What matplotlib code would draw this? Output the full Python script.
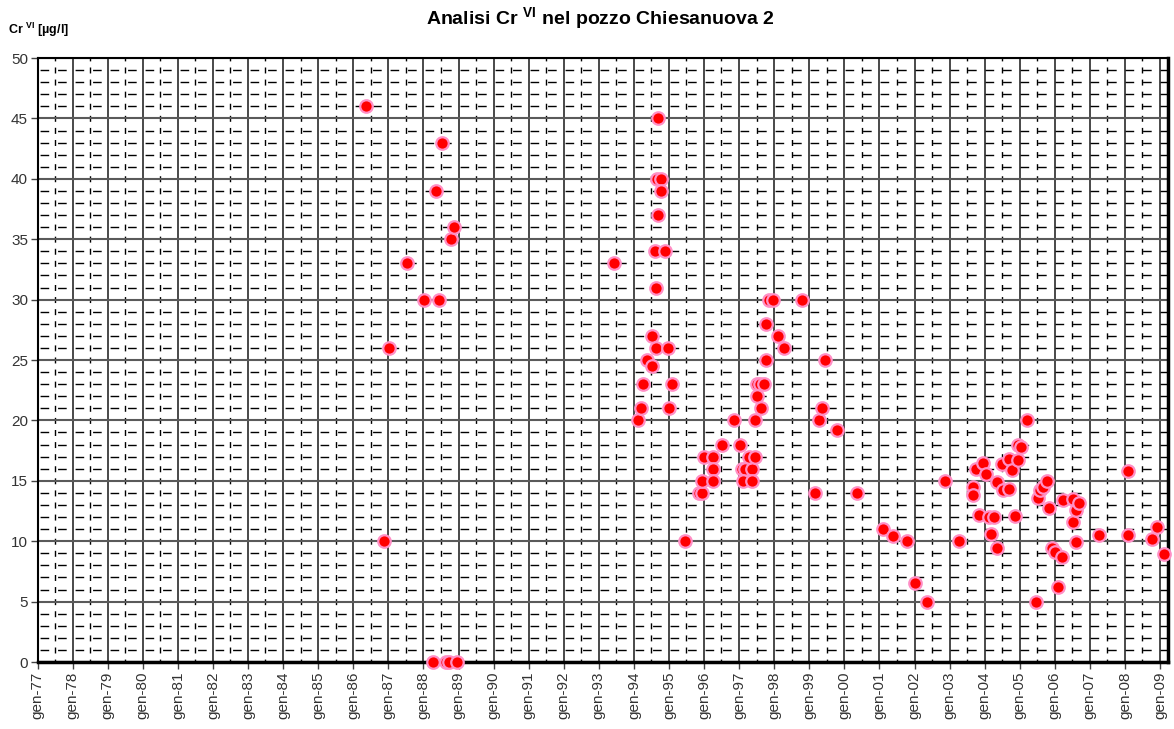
import matplotlib
matplotlib.use('Agg')
import matplotlib.pyplot as plt
import matplotlib.dates as mdates
from matplotlib.ticker import MultipleLocator, FuncFormatter, NullFormatter
from datetime import datetime

plt.rcParams['font.family'] = ['Liberation Sans', 'DejaVu Sans']
plt.rcParams['mathtext.fontset'] = 'custom'
plt.rcParams['mathtext.rm'] = 'Liberation Sans'
plt.rcParams['mathtext.bf'] = 'Liberation Sans:bold'

# sampling times as decimal years
years = [
    1986.36, 1986.87, 1987.02, 1987.53, 1988.02, 1988.27, 1988.36, 1988.44, 1988.53, 1988.64,
    1988.73, 1988.79, 1988.87, 1988.96,
    1993.43, 1994.13, 1994.19, 1994.27, 1994.37, 1994.52, 1994.52, 1994.62, 1994.62, 1994.60,
    1994.70, 1994.65, 1994.70, 1994.77, 1994.77, 1994.89, 1994.96, 1995.01, 1995.10, 1995.46,
    1995.86, 1995.93, 1995.93, 1996.00, 1996.26, 1996.26, 1996.26, 1996.52, 1996.85, 1997.03,
    1997.07, 1997.17, 1997.36, 1997.12, 1997.36, 1997.29, 1997.45, 1997.45, 1997.50, 1997.60,
    1997.71, 1997.52, 1997.62, 1997.77, 1997.77, 1997.86, 1997.96, 1998.10, 1998.29, 1998.79,
    1999.16, 1999.28, 1999.36, 1999.45, 1999.78, 2000.35, 2001.11, 2001.38, 2001.78, 2002.02,
    2002.35, 2002.86, 2003.28, 2003.68, 2003.68, 2003.75, 2003.85, 2003.95, 2004.04, 2004.13,
    2004.18, 2004.27, 2004.36, 2004.36, 2004.50, 2004.53, 2004.68, 2004.70, 2004.77, 2004.87,
    2004.94, 2004.94, 2005.04, 2005.20, 2005.46, 2005.51, 2005.58, 2005.67, 2005.77, 2005.84,
    2005.91, 2006.01, 2006.10, 2006.20, 2006.24, 2006.51, 2006.51, 2006.61, 2006.61, 2006.70,
    2007.27, 2008.10, 2008.10, 2008.78, 2008.92, 2009.10,
]
cr_vi = [
    46, 10, 26, 33, 30, 0, 39, 30, 43, 0,
    0, 35, 36, 0,
    33, 20, 21, 23, 25, 27, 24.5, 26, 31, 34,
    45, 40, 37, 40, 39, 34, 26, 21, 23, 10,
    14, 14, 15, 17, 17, 16, 15, 18, 20, 18,
    16, 16, 16, 15, 15, 17, 17, 20, 23, 23,
    23, 22, 21, 25, 28, 30, 30, 27, 26, 30,
    14, 20, 21, 25, 19.2, 14, 11, 10.4, 10, 6.5,
    5, 15, 10, 14.5, 13.8, 16, 12.2, 16.5, 15.6, 12,
    10.6, 12, 14.9, 9.4, 16.4, 14.2, 16.8, 14.3, 15.9, 12.1,
    18, 16.7, 17.8, 20, 5, 13.6, 14.2, 14.5, 15, 12.75,
    9.4, 9.1, 6.2, 8.7, 13.4, 13.5, 11.6, 12.6, 9.9, 13.2,
    10.5, 15.8, 10.5, 10.2, 11.2, 8.9,
]

title = r'Analisi Cr $^{\mathbf{VI}}$ nel pozzo Chiesanuova 2'
ylabel = r'Cr $^{\mathbf{VI}}$ [µg/l]'


def to_date(y):
    yr = int(y)
    start = datetime(yr, 1, 1)
    end = datetime(yr + 1, 1, 1)
    return start + (end - start) * (y - yr)


dates = [to_date(y) for y in years]

fig = plt.figure(figsize=(11.74, 7.29), dpi=100)
ax = fig.add_axes([0.0321, 0.0919, 0.9628, 0.8285])

ax.plot(dates, cr_vi, linestyle='none', marker='o', ms=9,
        mfc='#ff0000', mec='#ff8fc6', mew=1.6, zorder=5, clip_on=False)

ax.set_xlim(datetime(1977, 1, 1), datetime(2009, 3, 25))
ax.set_ylim(0, 50)

ax.xaxis.set_major_locator(mdates.YearLocator(1))
ax.xaxis.set_minor_locator(mdates.MonthLocator(bymonth=7))
ax.xaxis.set_major_formatter(FuncFormatter(lambda v, p: 'gen-' + mdates.num2date(v).strftime('%y')))
ax.xaxis.set_minor_formatter(NullFormatter())
ax.yaxis.set_major_locator(MultipleLocator(5))
ax.yaxis.set_minor_locator(MultipleLocator(1))

ax.xaxis.grid(which='major', color='#3a3a3a', lw=1.3)
ax.yaxis.grid(which='major', color='#5a5a5a', lw=1.5)
ax.xaxis.grid(which='minor', color='black', lw=1.0, linestyle=(2.2, (4.3, 4.4)))
ax.yaxis.grid(which='minor', color='black', lw=1.0, linestyle=(-1.5, (6.2, 6.4)))
ax.set_axisbelow(True)

ax.tick_params(axis='both', which='major', length=5, width=1, color='#444444',
               labelsize=11, labelcolor='#333333', pad=2)
ax.tick_params(axis='both', which='minor', length=0)
for lbl in ax.get_xticklabels():
    lbl.set_rotation(90)

for s in ax.spines.values():
    s.set_color('black')
    s.set_linewidth(1.5)
ax.spines['bottom'].set_linewidth(2.5)
ax.spines['right'].set_linewidth(2.5)

fig.text(0.511, 0.975, title, ha='center', va='center', fontsize=14, fontweight='bold')
fig.text(0.0068, 0.953, ylabel, ha='left', va='baseline', fontsize=9, fontweight='bold')

fig.savefig('out.png', dpi=100)
